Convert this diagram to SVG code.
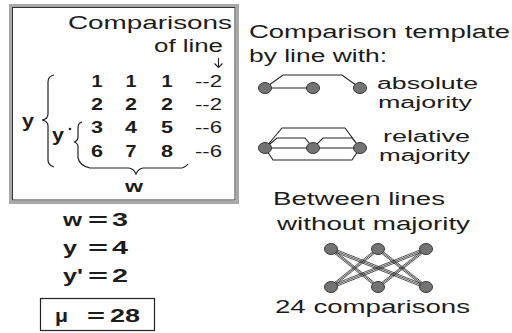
<svg xmlns="http://www.w3.org/2000/svg" width="512" height="333" viewBox="0 0 512 333">
<style>
text{font-family:"Liberation Sans",Arial,sans-serif;fill:#1c1c1c}
.n{font-size:18px}
.m{font-size:16px}
.b{font-size:18px;font-weight:bold}
.d{font-size:16px;font-weight:bold;text-anchor:middle}
.s{font-size:16px}
.ln{fill:none;stroke:#222;stroke-width:1.1}
.br{fill:none;stroke:#222;stroke-width:1.2}
.nd{fill:#737373;stroke:#3a3a3a;stroke-width:1}
.e{stroke:#2a2a2a;stroke-width:0.8}
</style>
<rect width="512" height="333" fill="#fff"/>

<g id="matrix-box">
<rect x="10.5" y="5.5" width="227" height="197" fill="none" stroke="#a8a8a8" stroke-width="3"/>
<rect x="12.5" y="7.5" width="222.5" height="192.5" fill="none" stroke="#333" stroke-width="1"/>
<text class="n" x="68" y="29" textLength="164" lengthAdjust="spacingAndGlyphs">Comparisons</text>
<text class="n" x="154" y="52" textLength="69" lengthAdjust="spacingAndGlyphs">of line</text>
<path d="M218.5,58 L218.5,67.5 M214.5,63.5 L218.5,67.5 L222.5,63.5" fill="none" stroke="#222" stroke-width="1.1"/>
</g>

<g id="numbers">
<text class="d" x="97" y="87" textLength="11" lengthAdjust="spacingAndGlyphs">1</text>
<text class="d" x="131" y="87" textLength="11" lengthAdjust="spacingAndGlyphs">1</text>
<text class="d" x="167" y="87" textLength="11" lengthAdjust="spacingAndGlyphs">1</text>
<text class="d" x="97" y="110" textLength="12" lengthAdjust="spacingAndGlyphs">2</text>
<text class="d" x="131" y="110" textLength="12" lengthAdjust="spacingAndGlyphs">2</text>
<text class="d" x="167" y="110" textLength="12" lengthAdjust="spacingAndGlyphs">2</text>
<text class="d" x="97" y="133" textLength="12" lengthAdjust="spacingAndGlyphs">3</text>
<text class="d" x="131" y="133" textLength="12" lengthAdjust="spacingAndGlyphs">4</text>
<text class="d" x="167" y="133" textLength="12" lengthAdjust="spacingAndGlyphs">5</text>
<text class="d" x="97" y="157" textLength="12" lengthAdjust="spacingAndGlyphs">6</text>
<text class="d" x="131" y="157" textLength="11" lengthAdjust="spacingAndGlyphs">7</text>
<text class="d" x="167" y="157" textLength="12" lengthAdjust="spacingAndGlyphs">8</text>
<text class="s" x="195" y="87" textLength="27" lengthAdjust="spacingAndGlyphs">--2</text>
<text class="s" x="195" y="110" textLength="27" lengthAdjust="spacingAndGlyphs">--2</text>
<text class="s" x="195" y="133" textLength="27" lengthAdjust="spacingAndGlyphs">--6</text>
<text class="s" x="195" y="157" textLength="27" lengthAdjust="spacingAndGlyphs">--6</text>
</g>

<g id="braces">
<path class="br" d="M54,75 Q48,76 48,82 L48,114 Q48,119 42,120 Q48,121 48,126 L48,160 Q48,165 54,167"/>
<path class="br" d="M82,122 Q78,123 78,128 L78,137 Q78,141 74,142 Q78,143 78,147 L78,158 Q80,166 90,168 L129,168 Q134,169 136,174 Q138,169 143,168 L182,168 Q186,167 188,164"/>
<text class="b" x="22" y="127" textLength="12" lengthAdjust="spacingAndGlyphs">y</text>
<text class="b" x="52" y="141" textLength="12" lengthAdjust="spacingAndGlyphs">y</text>
<circle cx="70" cy="129" r="1.3" fill="#222"/>
<text class="d" x="134" y="192" textLength="18" lengthAdjust="spacingAndGlyphs">w</text>
</g>

<g id="values">
<text class="b" x="63" y="226" textLength="19" lengthAdjust="spacingAndGlyphs">w</text>
<text class="b" x="88" y="226" textLength="20" lengthAdjust="spacingAndGlyphs">=</text>
<text class="b" x="112" y="226" textLength="16" lengthAdjust="spacingAndGlyphs">3</text>
<text class="b" x="63" y="254" textLength="14" lengthAdjust="spacingAndGlyphs">y</text>
<text class="b" x="88" y="254" textLength="20" lengthAdjust="spacingAndGlyphs">=</text>
<text class="b" x="112" y="254" textLength="16" lengthAdjust="spacingAndGlyphs">4</text>
<text class="b" x="63" y="282" textLength="20" lengthAdjust="spacingAndGlyphs">y'</text>
<text class="b" x="88" y="282" textLength="20" lengthAdjust="spacingAndGlyphs">=</text>
<text class="b" x="112" y="282" textLength="16" lengthAdjust="spacingAndGlyphs">2</text>
</g>

<g id="mu-box">
<rect x="40.5" y="298.5" width="114" height="32" fill="none" stroke="#222" stroke-width="1.2"/>
<text class="b" x="55" y="322" textLength="13" lengthAdjust="spacingAndGlyphs">μ</text>
<text class="b" x="87" y="322" textLength="18" lengthAdjust="spacingAndGlyphs">=</text>
<text class="b" x="110" y="322" textLength="30" lengthAdjust="spacingAndGlyphs">28</text>
</g>

<g id="template-title">
<text class="n" x="249" y="38" textLength="261" lengthAdjust="spacingAndGlyphs">Comparison template</text>
<text class="n" x="249" y="62" textLength="138" lengthAdjust="spacingAndGlyphs">by line with:</text>
</g>

<g id="absolute-majority">
<path class="ln" d="M265,88 L313,88 M265,88 L283,75 L342,75 L360,88"/>
<ellipse class="nd" cx="265" cy="88" rx="6.5" ry="5.5"/>
<ellipse class="nd" cx="313" cy="88" rx="6.5" ry="5.5"/>
<ellipse class="nd" cx="360" cy="88" rx="6.5" ry="5.5"/>
<text class="m" x="377" y="89" textLength="101" lengthAdjust="spacingAndGlyphs">absolute</text>
<text class="m" x="378" y="108" textLength="94" lengthAdjust="spacingAndGlyphs">majority</text>
</g>

<g id="relative-majority">
<path class="ln" d="M265,148 L282,128 L345,128 L360,148 M265,148 L277,138 L305,138 L313,148 L323,138 L352,138 L360,148 M265,148 L360,148 M265,148 L273,160 L352,160 L360,148"/>
<ellipse class="nd" cx="265" cy="148" rx="6.5" ry="5.5"/>
<ellipse class="nd" cx="313" cy="148" rx="6.5" ry="5.5"/>
<ellipse class="nd" cx="360" cy="148" rx="6.5" ry="5.5"/>
<text class="m" x="383" y="142" textLength="87" lengthAdjust="spacingAndGlyphs">relative</text>
<text class="m" x="379" y="161" textLength="91" lengthAdjust="spacingAndGlyphs">majority</text>
</g>

<g id="no-majority">
<text class="n" x="273" y="205" textLength="172" lengthAdjust="spacingAndGlyphs">Between lines</text>
<text class="n" x="277" y="230" textLength="193" lengthAdjust="spacingAndGlyphs">without majority</text>
<g id="connectors">
<line class="e" x1="331" y1="247.5" x2="378" y2="285.5"/><line class="e" x1="331" y1="249" x2="378" y2="287"/><line class="e" x1="331" y1="250.5" x2="378" y2="288.5"/>
<line class="e" x1="331" y1="247.5" x2="426" y2="285.5"/><line class="e" x1="331" y1="249" x2="426" y2="287"/><line class="e" x1="331" y1="250.5" x2="426" y2="288.5"/>
<line class="e" x1="378" y1="247.5" x2="331" y2="285.5"/><line class="e" x1="378" y1="249" x2="331" y2="287"/><line class="e" x1="378" y1="250.5" x2="331" y2="288.5"/>
<line class="e" x1="378" y1="247.5" x2="426" y2="285.5"/><line class="e" x1="378" y1="249" x2="426" y2="287"/><line class="e" x1="378" y1="250.5" x2="426" y2="288.5"/>
<line class="e" x1="426" y1="247.5" x2="331" y2="285.5"/><line class="e" x1="426" y1="249" x2="331" y2="287"/><line class="e" x1="426" y1="250.5" x2="331" y2="288.5"/>
<line class="e" x1="426" y1="247.5" x2="378" y2="285.5"/><line class="e" x1="426" y1="249" x2="378" y2="287"/><line class="e" x1="426" y1="250.5" x2="378" y2="288.5"/>
</g>
<ellipse class="nd" cx="331" cy="249" rx="6.5" ry="5.5"/>
<ellipse class="nd" cx="378" cy="249" rx="6.5" ry="5.5"/>
<ellipse class="nd" cx="426" cy="249" rx="6.5" ry="5.5"/>
<ellipse class="nd" cx="331" cy="287" rx="6.5" ry="5.5"/>
<ellipse class="nd" cx="378" cy="287" rx="6.5" ry="5.5"/>
<ellipse class="nd" cx="426" cy="287" rx="6.5" ry="5.5"/>
<text class="n" x="275" y="313" textLength="195" lengthAdjust="spacingAndGlyphs">24 comparisons</text>
</g>
</svg>
